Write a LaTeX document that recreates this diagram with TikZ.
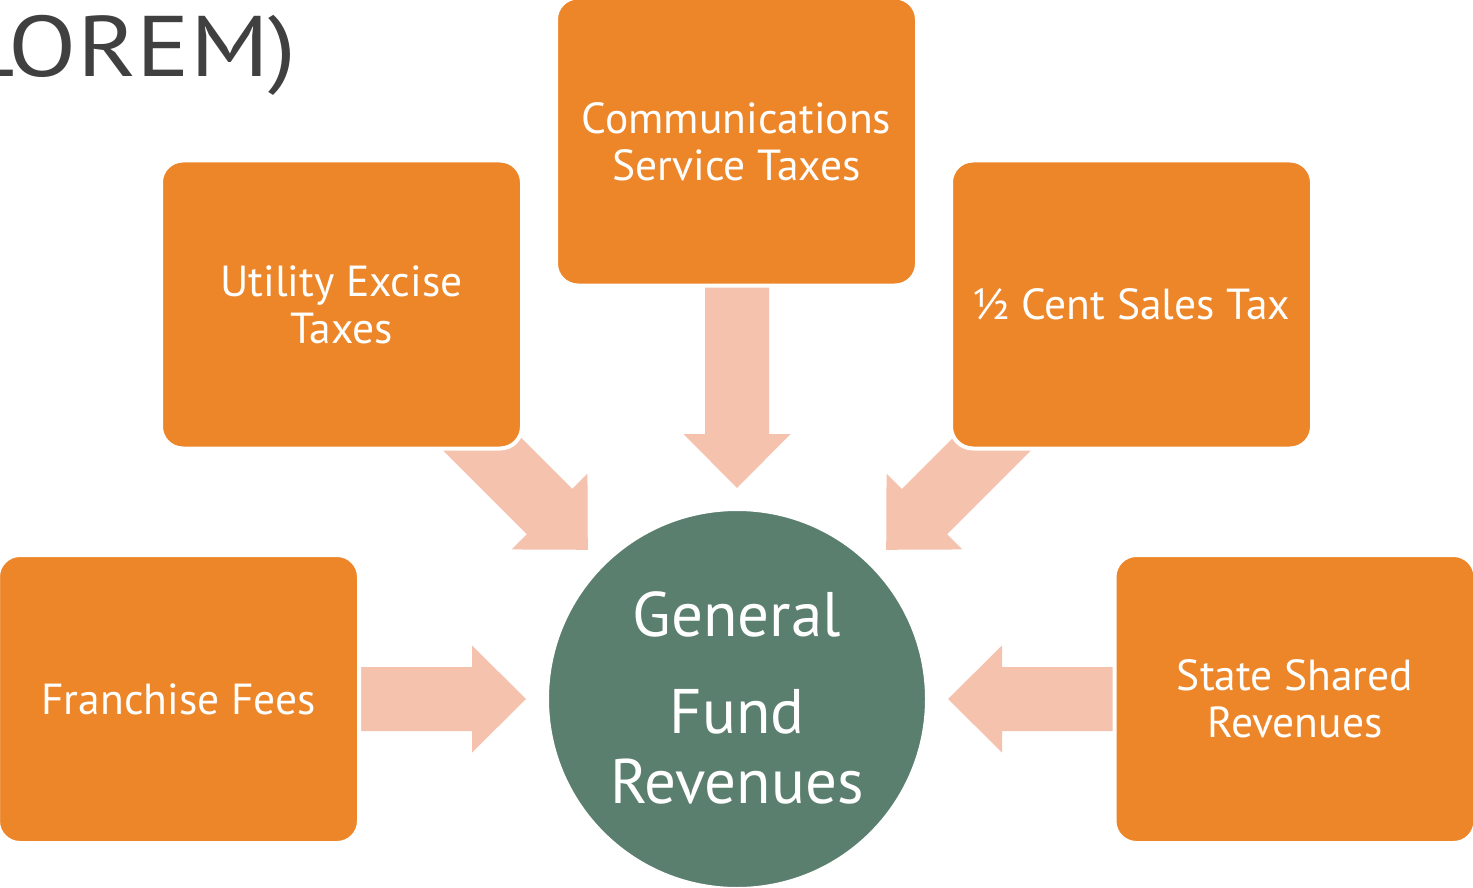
\documentclass[tikz,border=0pt]{standalone}
\usepackage{fontspec}
\setmainfont{PT Sans}
\definecolor{boxor}{RGB}{237,133,41}
\definecolor{arrowpk}{RGB}{244,194,173}
\definecolor{circgr}{RGB}{90,127,110}
\definecolor{titlegr}{RGB}{64,64,64}
\begin{document}
\begin{tikzpicture}[x=1pt,y=-1pt,
  srcbox/.style={draw=white, line width=4pt, fill=boxor, rounded corners=22pt,
    minimum width=361pt, minimum height=288pt, text=white, align=center, inner sep=0pt,
    font=\fontsize{43.5}{47}\selectfont},
  flow/.style={fill=arrowpk},
  hubtext/.style={text=white, font=\fontsize{63}{63}\selectfont, anchor=base, inner sep=0pt},
  hub/.style={circle, fill=circgr, draw=white, line width=3pt, minimum size=379pt, inner sep=0pt, text=white}]
\useasboundingbox (0,0) rectangle (1473,888);
\clip (0,0) rectangle (1473,888);
\fill[white] (0,0) rectangle (1473,888);

% title fragment
\node[anchor=base east, text=titlegr, font=\fontsize{86}{90}\selectfont, inner sep=0pt] (title) at (297,77) {\scalebox{1.16}[1]{LOREM)}};

% hub
\coordinate (hubc) at (737,699);

% block arrows (drawn first, tails hidden under boxes)
\foreach \ang/\len in {180/175, 0/175, 90/215, 135/200, 45/200}{
  \fill[flow, shift={(hubc)}, rotate=\ang]
    (211,0) -- (265,53.5) -- (265,32) -- (211+\len,32) -- (211+\len,-32) -- (265,-32) -- (265,-53.5) -- cycle;
}

% source boxes
\node[srcbox] (ut) at (341.5,304.5) {Utility Excise\\Taxes};
\node[srcbox] (cm) at (736.5,141.5) {Communications\\Service Taxes};
\node[srcbox] (hc) at (1131.5,304.5) {½ Cent Sales Tax};
\node[srcbox] (ff) at (178.5,699) {Franchise Fees};
\node[srcbox] (ss) at (1295,699) {State Shared\\Revenues};

% hub circle
\node[hub] (gf) at (hubc) {};
\node[hubtext] (gf1) at (737,636) {General};
\node[hubtext] (gf2) at (737,733) {Fund};
\node[hubtext] (gf3) at (737,803) {Revenues};
\end{tikzpicture}
\end{document}
